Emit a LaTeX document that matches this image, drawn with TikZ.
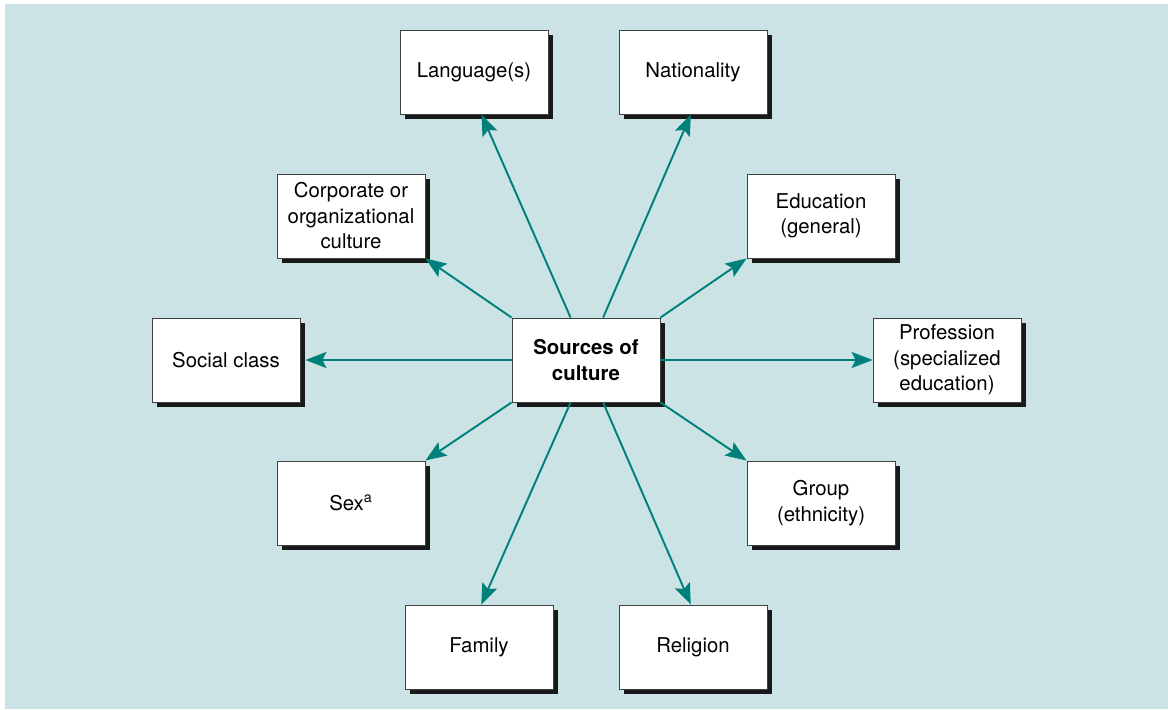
\documentclass[tikz,border=0pt]{standalone}
\usepackage{fontspec}
\setmainfont{TeX Gyre Heros}
\usepackage{tikz}
\usetikzlibrary{arrows.meta, shadows}
\definecolor{bgblue}{RGB}{204,227,230}
\definecolor{arrteal}{RGB}{0,128,122}

\begin{document}
\begin{tikzpicture}[x=0.02cm, y=-0.02cm,
    box/.style={draw=black!75, line width=0.5pt, fill=white,
      minimum width=2.96cm, minimum height=1.68cm, inner sep=0pt,
      align=center, font=\fontsize{11.6}{14.5}\selectfont,
      drop shadow={shadow xshift=0.1cm, shadow yshift=-0.1cm, fill=black!90, opacity=1}},
    arr/.style={draw=arrteal, line width=1.1pt,
      -{Stealth[length=0.42cm, width=0.32cm, inset=0.08cm]}}
    ]
    \useasboundingbox (0,0) rectangle (1168,709);
    \fill[bgblue] (5,4) rectangle (1168,709);

    % boxes
    \node[box] (lang) at (474,72) {Language(s)};
    \node[box] (nat)  at (693,72) {Nationality};
    \node[box] (corp) at (351,216) {Corporate or\\organizational\\culture};
    \node[box] (edu)  at (821,216) {Education\\(general)};
    \node[box] (soc)  at (226,360) {Social class};
    \node[box, font=\fontsize{11.6}{14.5}\selectfont\bfseries] (src) at (586,360) {Sources of\\culture};
    \node[box] (prof) at (947,360) {Profession\\(specialized\\education)};
    \node[box] (sex)  at (351,503) {Sex\textsuperscript{a}};
    \node[box] (grp)  at (821,503) {Group\\(ethnicity)};
    \node[box] (fam)  at (479,647) {Family};
    \node[box] (rel)  at (693,647) {Religion};

    % arrows
    \draw[arr] (src.110) -- (lang.-80);
    \draw[arr] (src.68) -- (nat.-93);
    \draw[arr] (src.north west) -- (corp.south east);
    \draw[arr] (src.north east) -- (edu.south west);
    \draw[arr] (src.west) -- ([xshift=0.1cm]soc.east);
    \draw[arr] (src.east) -- (prof.west);
    \draw[arr] (src.south west) -- (sex.north east);
    \draw[arr] (src.south east) -- (grp.north west);
    \draw[arr] (src.-110) -- (fam.87);
    \draw[arr] (src.-68) -- (rel.93);
\end{tikzpicture}
\end{document}
